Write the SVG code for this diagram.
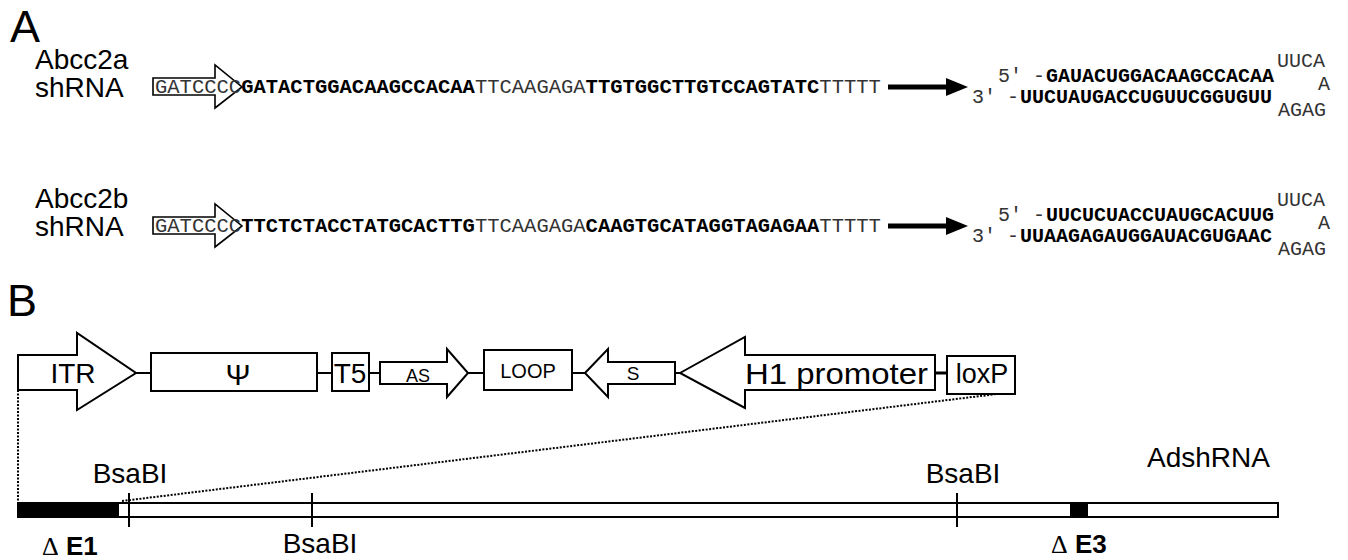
<svg xmlns="http://www.w3.org/2000/svg" width="1348" height="560" viewBox="0 0 1348 560">
<style>
.sans{font-family:"Liberation Sans",Arial,Helvetica,sans-serif;fill:#000}
.mono{font-family:"Liberation Mono","Courier New",monospace;font-size:20.5px}
.m20{font-family:"Liberation Mono","Courier New",monospace;font-size:20px}
.b{font-weight:bold;fill:#000}
.r{font-weight:normal;fill:#333}
.shape{fill:#fff;stroke:#000;stroke-width:2}
.thin{fill:#fff;stroke:#000;stroke-width:1.6}
.link{stroke:#000;stroke-width:2;fill:none}
.thick{stroke:#000;stroke-width:5;fill:none}
.dot{stroke:#000;stroke-width:2;stroke-dasharray:2 1.5;fill:none}
.mid{text-anchor:middle}
</style>
<rect width="1348" height="560" fill="#fff"/>

<g id="panel-labels">
<text class="sans" x="10" y="42" font-size="45">A</text>
<text class="sans" x="7" y="316" font-size="45">B</text>
</g>

<g id="connectors">
<line class="thick" x1="888" y1="87" x2="950" y2="87"/>
<polygon points="946,78 968,87 946,96" fill="#000"/>
<line class="thick" x1="888" y1="226" x2="950" y2="226"/>
<polygon points="946,217 968,226 946,235" fill="#000"/>
<line class="link" x1="136" y1="373" x2="151" y2="373"/>
<line class="link" x1="317" y1="373" x2="332" y2="373"/>
<line class="link" x1="369" y1="373" x2="380" y2="373"/>
<line class="link" x1="468" y1="373" x2="484" y2="373"/>
<line class="link" x1="572" y1="373" x2="585" y2="373"/>
<line class="link" x1="675" y1="373" x2="680" y2="373"/>
<line class="link" x1="935" y1="373" x2="947" y2="373" style="stroke-width:3"/>
<line class="dot" x1="18" y1="390" x2="18" y2="503"/>
<line class="dot" x1="122" y1="501" x2="997" y2="394"/>
</g>

<g id="abcc2a">
<text class="sans" font-size="28" x="35" y="69">Abcc2a</text>
<text class="sans" font-size="28" x="35" y="97">shRNA</text>
<polygon class="thin" points="153,78 215,78 215,65 242,87 215,108 215,95 153,95"/>
<text class="mono" x="155" y="93"><tspan class="r">GATCCCC</tspan><tspan class="b">GATACTGGACAAGCCACAA</tspan><tspan class="r">TTCAAGAGA</tspan><tspan class="b">TTGTGGCTTGTCCAGTATC</tspan><tspan class="r">TTTTT</tspan></text>
</g>

<g id="hairpin-a">
<text class="m20 r" x="998" y="82">5′</text>
<text class="m20 r" x="1033" y="82">-</text>
<text class="m20 b" x="1046" y="82">GAUACUGGACAAGCCACAA</text>
<text class="m20 r" x="972" y="103">3′</text>
<text class="m20 r" x="1007" y="103">-</text>
<text class="m20 b" x="1020" y="103">UUCUAUGACCUGUUCGGUGUU</text>
<text class="m20 r" x="1277" y="67">UUCA</text>
<text class="m20 r" x="1318" y="90">A</text>
<text class="m20 r" x="1278" y="116">AGAG</text>
</g>

<g id="abcc2b">
<text class="sans" font-size="28" x="35" y="208">Abcc2b</text>
<text class="sans" font-size="28" x="35" y="236">shRNA</text>
<polygon class="thin" points="153,217 215,217 215,204 242,226 215,247 215,234 153,234"/>
<text class="mono" x="155" y="232"><tspan class="r">GATCCCC</tspan><tspan class="b">TTCTCTACCTATGCACTTG</tspan><tspan class="r">TTCAAGAGA</tspan><tspan class="b">CAAGTGCATAGGTAGAGAA</tspan><tspan class="r">TTTTT</tspan></text>
</g>

<g id="hairpin-b">
<text class="m20 r" x="998" y="221">5′</text>
<text class="m20 r" x="1033" y="221">-</text>
<text class="m20 b" x="1046" y="221">UUCUCUACCUAUGCACUUG</text>
<text class="m20 r" x="972" y="242">3′</text>
<text class="m20 r" x="1007" y="242">-</text>
<text class="m20 b" x="1020" y="242">UUAAGAGAUGGAUACGUGAAC</text>
<text class="m20 r" x="1277" y="206">UUCA</text>
<text class="m20 r" x="1318" y="229">A</text>
<text class="m20 r" x="1278" y="255">AGAG</text>
</g>

<g id="itr">
<polygon class="shape" points="18,355 77,355 77,333 136,373 77,410 77,390 18,390"/>
<text class="sans mid" font-size="28" x="73" y="383">ITR</text>
</g>
<g id="psi">
<rect class="shape" x="151" y="353" width="166" height="38"/>
<text class="sans mid" font-size="30" x="238" y="385">Ψ</text>
</g>
<g id="t5">
<rect class="shape" x="332" y="353" width="37" height="38"/>
<text class="sans mid" font-size="28" x="350" y="383">T5</text>
</g>
<g id="as">
<polygon class="shape" points="380,362 447,362 447,349 468,373 447,397 447,384 380,384"/>
<text class="sans mid" font-size="18" x="418" y="382">AS</text>
</g>
<g id="loop">
<rect class="shape" x="484" y="350" width="88" height="40"/>
<text class="sans mid" font-size="20" x="528" y="378">LOOP</text>
</g>
<g id="s">
<polygon class="shape" points="585,373 608,349 608,362 675,362 675,384 608,384 608,397"/>
<text class="sans mid" font-size="19" x="633" y="380">S</text>
</g>
<g id="h1-promoter">
<polygon class="shape" points="680,373 745,337 745,355 935,355 935,390 745,390 745,408"/>
<text class="sans" font-size="30" x="745" y="384" textLength="183" lengthAdjust="spacingAndGlyphs">H1 promoter</text>
</g>
<g id="loxp">
<rect class="shape" x="947" y="356" width="68" height="38"/>
<text class="sans mid" font-size="27" x="982" y="383">loxP</text>
</g>

<g id="genome">
<rect class="shape" x="18" y="503" width="1260" height="14"/>
<rect x="18" y="503" width="100" height="14" fill="#000" stroke="#000" stroke-width="2"/>
<rect x="1071" y="503" width="16" height="14" fill="#000" stroke="#000" stroke-width="2"/>
<line class="link" x1="129" y1="493" x2="129" y2="527"/>
<line class="link" x1="312" y1="493" x2="312" y2="527"/>
<line class="link" x1="957" y1="493" x2="957" y2="527"/>
</g>

<g id="genome-labels">
<text class="sans mid" font-size="28" x="130" y="483">BsaBI</text>
<text class="sans mid" font-size="28" x="320" y="553">BsaBI</text>
<text class="sans mid" font-size="28" x="963" y="483">BsaBI</text>
<text class="sans" font-size="28" x="1147" y="467">AdshRNA</text>
<text class="sans" font-size="26" font-weight="bold" x="42" y="555"><tspan font-family="Liberation Serif, serif" font-weight="normal">Δ</tspan> E1</text>
<text class="sans" font-size="26" font-weight="bold" x="1051" y="553"><tspan font-family="Liberation Serif, serif" font-weight="normal">Δ</tspan> E3</text>
</g>
</svg>
